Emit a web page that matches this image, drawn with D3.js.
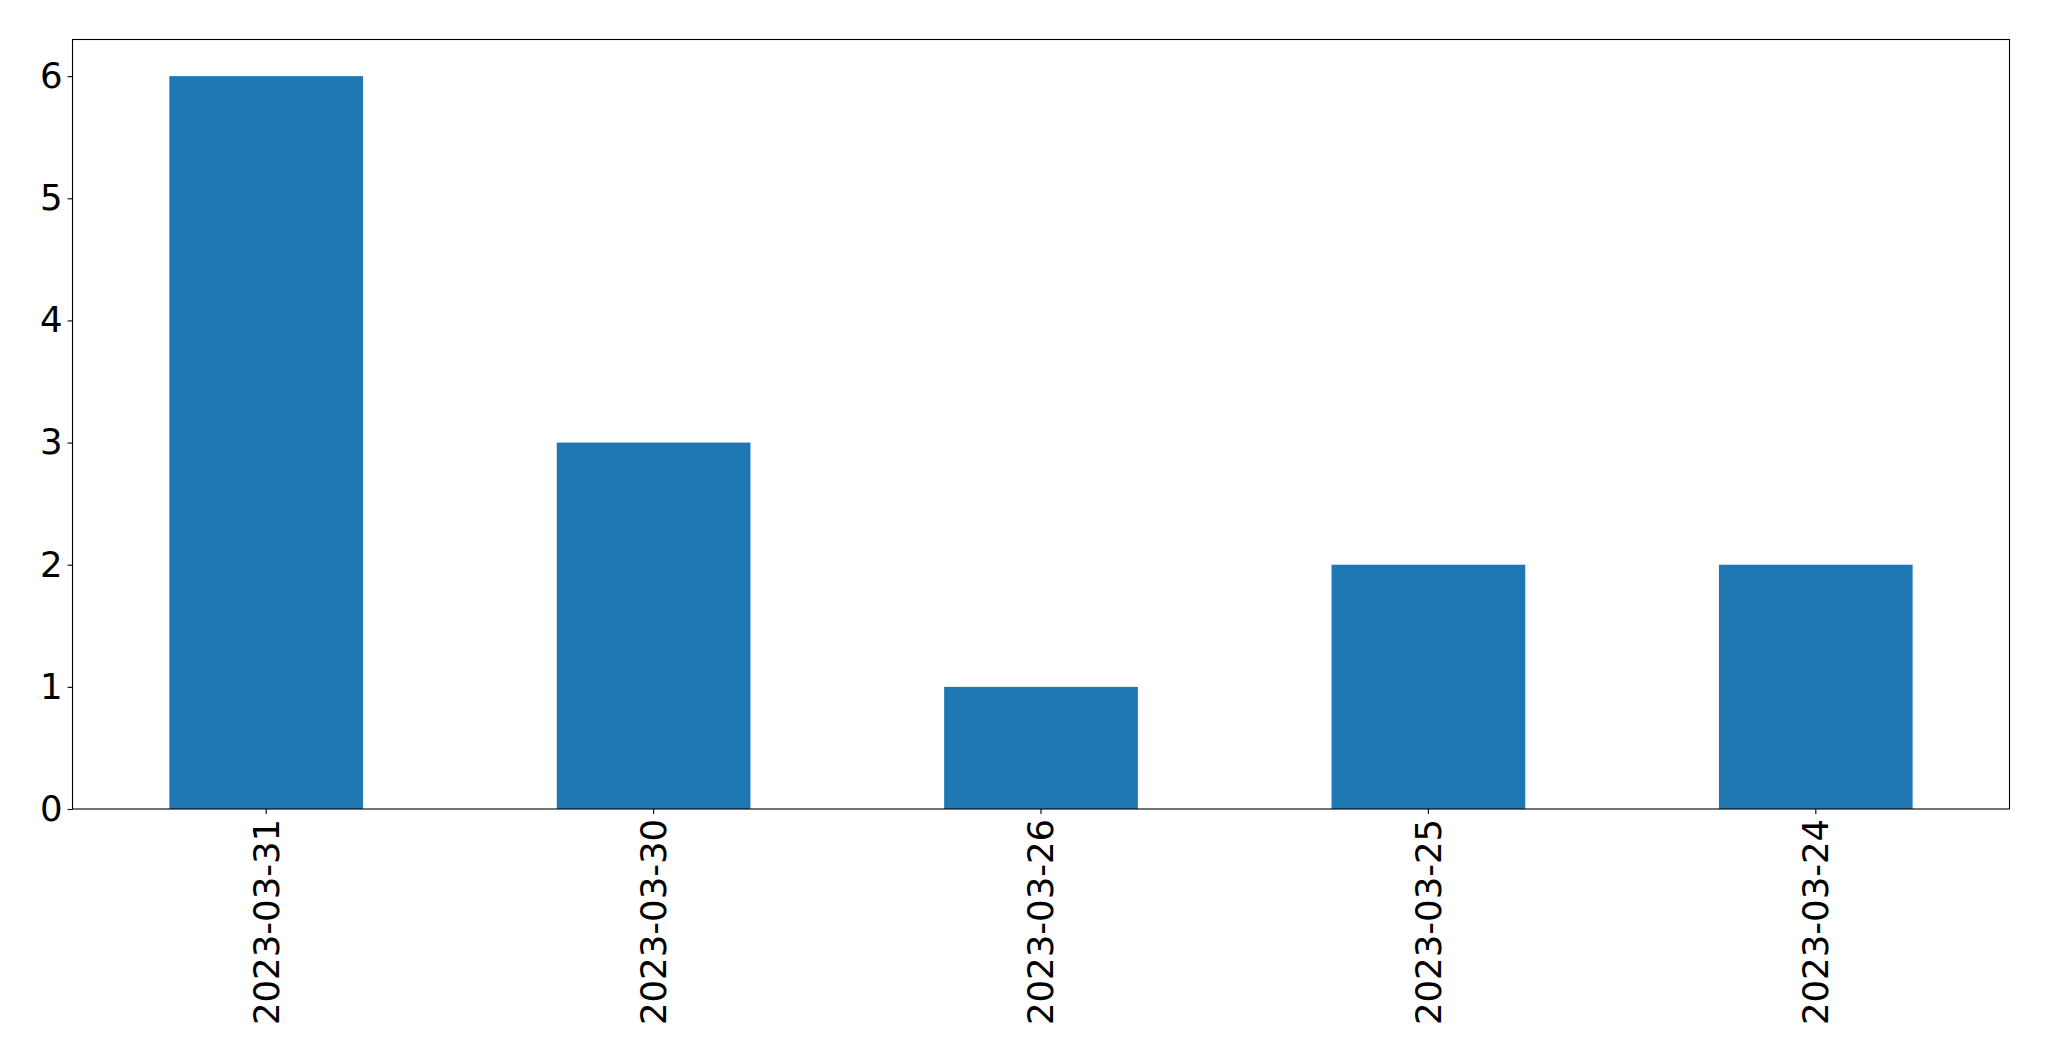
<!DOCTYPE html>
<html><head><meta charset="utf-8">
<script src="https://cdn.jsdelivr.net/npm/d3@7"></script>
<style>body{margin:0;background:#fff;}svg{display:block;}</style>
</head><body>
<script>
const categories = ["2023-03-31","2023-03-30","2023-03-26","2023-03-25","2023-03-24"];
const values = [6,3,1,2,2];
const yTicks = [0,1,2,3,4,5,6];

const W = 2049, H = 1061;
const m = {left:72.5, top:39.5, right:2049-2009.5, bottom:1061-809};
const svg = d3.select("body").append("svg").attr("width",W).attr("height",H);
const iw = W-m.left-m.right, ih = H-m.top-m.bottom;
const g = svg.append("g").attr("transform",`translate(${m.left},${m.top})`);

const x = d3.scaleBand().domain(categories).range([0,iw]).paddingInner(0.5).paddingOuter(0.25);
const y = d3.scaleLinear().domain([0,6.3]).range([ih,0]);

g.selectAll("rect.bar").data(values).enter().append("rect")
  .attr("class","bar")
  .attr("x",(d,i)=>x(categories[i]))
  .attr("width",x.bandwidth())
  .attr("y",d=>y(d))
  .attr("height",d=>ih-y(d))
  .attr("fill","#1f77b4");

const font = "'DejaVu Sans', sans-serif";
const fs = "35.5px";

const ya = g.append("g").call(d3.axisLeft(y).tickValues(yTicks).tickFormat(d3.format("d")).tickSize(4.9).tickPadding(4.9));
ya.select(".domain").remove();
ya.selectAll(".tick line").attr("stroke","#000").attr("stroke-width",1.1);
ya.selectAll(".tick text").attr("font-family",font).attr("font-size",fs).attr("fill","#000");

const xa = g.append("g").attr("transform",`translate(0,${ih})`).call(d3.axisBottom(x).tickSize(4.9).tickPadding(4.9));
xa.select(".domain").remove();
xa.selectAll(".tick line").attr("stroke","#000").attr("stroke-width",1.1);
xa.selectAll(".tick text").attr("font-family",font).attr("font-size",fs).attr("fill","#000")
  .attr("transform","rotate(-90)")
  .attr("text-anchor","end")
  .attr("x",-9.8).attr("y",0).attr("dy","0.35em");

g.append("rect").attr("x",0).attr("y",0).attr("width",iw).attr("height",ih)
  .attr("fill","none").attr("stroke","#000").attr("stroke-width",1.1);
</script>
</body></html>
